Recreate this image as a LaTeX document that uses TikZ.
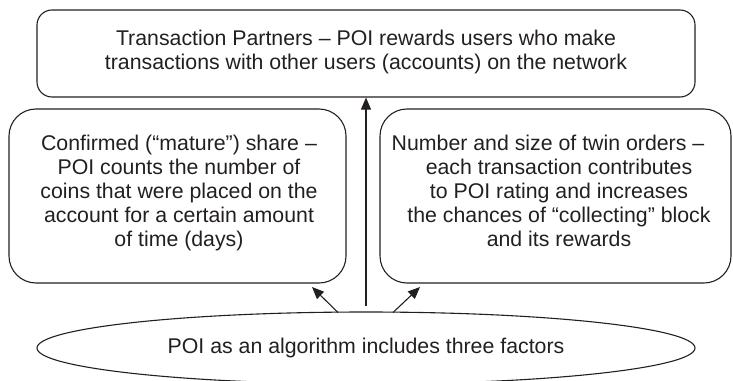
\documentclass[tikz,border=0pt]{standalone}
\usepackage{fontspec}
\setmainfont{Liberation Sans}
\usetikzlibrary{arrows.meta,shapes.geometric}
\definecolor{ink}{HTML}{231F20}
\tikzset{
  x=1pt, y=1pt,
  outline/.style={draw=ink, line width=1.1pt},
  factorbox/.style={outline, rounded corners=27pt, inner sep=0pt},
  textfont/.style={font=\fontsize{21.3pt}{24pt}\selectfont},
  caption/.style={textfont, inner sep=0pt, align=center, text=ink},
  flow/.style={ink, line width=1.1pt, -{Triangle[length=12pt,width=10pt]}},
}
\begin{document}
\begin{tikzpicture}
  \useasboundingbox (0,0) rectangle (733,-380);
  \clip (0,0) rectangle (733,-380);

  % the three factor boxes
  \node[outline, rounded corners=15pt, minimum width=658pt, minimum height=87pt]
    (partners) at (366,-53.5) {};
  \node[factorbox, minimum width=337pt, minimum height=174pt]
    (share) at (177.5,-196) {};
  \node[factorbox, minimum width=351pt, minimum height=174pt]
    (orders) at (555.5,-196) {};

  % their texts
  \node[caption, anchor=north] (partnerstext) at (366,-30)
    {Transaction Partners – POI rewards users who make\\
     transactions with other users (accounts) on the network};
  \node[caption, anchor=north] (sharetext) at (179,-135)
    {Confirmed (“mature”) share –\\
     POI counts the number of\\
     coins that were placed on the\\
     account for a certain amount\\
     of time (days)};
  \node[caption, anchor=north] (orderstext) at (559,-135)
    {Number and size of twin orders –\hspace*{22pt}\\
     each transaction contributes\\
     to POI rating and increases\\
     the chances of “collecting” block\\
     and its rewards};

  % the algorithm itself
  \node[outline, ellipse, minimum width=658pt, minimum height=72pt,
        inner sep=0pt, text=ink, textfont]
    (poi) at (366,-348) {POI as an algorithm includes three factors};

  % arrows from the algorithm to its factors
  \coordinate (stem) at (366,-306);
  \coordinate (lfoot) at (338,-312.5);
  \coordinate (rfoot) at (393,-312.5);
  \coordinate (ltip) at (312,-287);
  \coordinate (rtip) at (420,-287);
  \draw[flow] (stem) -- (partners.south);
  \draw[flow] (lfoot) -- (ltip);
  \draw[flow] (rfoot) -- (rtip);
\end{tikzpicture}
\end{document}
